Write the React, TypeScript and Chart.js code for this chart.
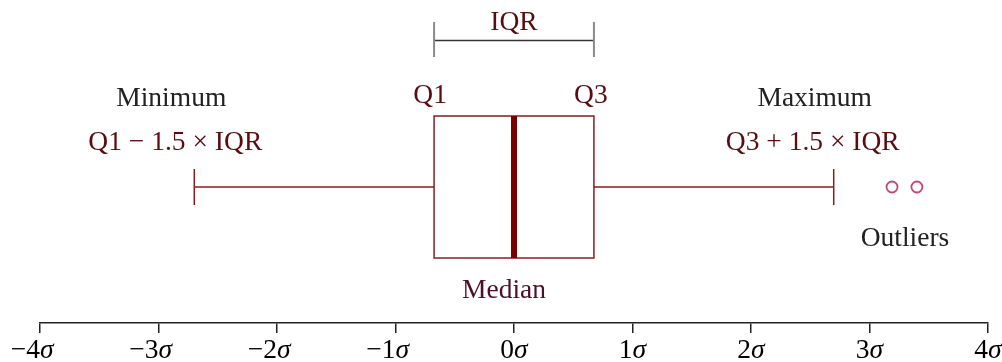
import React, { useEffect, useRef } from "react";
import { Chart, registerables } from "chart.js";

Chart.register(...registerables);

// Standard normal box plot: quartiles, 1.5×IQR fences and two outliers (in σ units)
const quartiles = [-0.6745, 0, 0.6745]; // Q1, median, Q3
const fences = [-2.698, 2.698]; // Q1 − 1.5×IQR, Q3 + 1.5×IQR
const outlierValues = [3.19, 3.4];
const tickValues = [-4, -3, -2, -1, 0, 1, 2, 3, 4];
const tickNumbers = ["4", "3", "2", "1", "0", "1", "2", "3", "4"];

const SERIF = '"Liberation Serif", "Times New Roman", serif';
const FONT_SIZE = 27.5;
const BOX_RED = "#8b1c1c";
const LABEL_RED = "#5a0c10";

const boxPlotPlugin = {
  id: "boxPlotDecor",
  afterDatasetsDraw(chart: any) {
    const { ctx } = chart;
    const xs = chart.scales.x;
    const ys = chart.scales.y;
    const yc = ys.getPixelForValue(0);
    const x1 = xs.getPixelForValue(quartiles[0]);
    const xm = xs.getPixelForValue(quartiles[1]);
    const x2 = xs.getPixelForValue(quartiles[2]);
    const xLo = xs.getPixelForValue(fences[0]);
    const xHi = xs.getPixelForValue(fences[1]);
    const half = 71;

    ctx.save();
    // box
    ctx.strokeStyle = BOX_RED;
    ctx.lineWidth = 1.5;
    ctx.strokeRect(x1, yc - half, x2 - x1, half * 2);
    // median
    ctx.strokeStyle = "#780000";
    ctx.lineWidth = 6;
    ctx.beginPath();
    ctx.moveTo(xm, yc - half);
    ctx.lineTo(xm, yc + half);
    ctx.stroke();
    // whisker caps
    ctx.strokeStyle = BOX_RED;
    ctx.lineWidth = 1.5;
    [xLo, xHi].forEach((x) => {
      ctx.beginPath();
      ctx.moveTo(x, yc - 18);
      ctx.lineTo(x, yc + 18);
      ctx.stroke();
    });
    // IQR bracket
    ctx.strokeStyle = "#333333";
    ctx.lineWidth = 1.5;
    ctx.beginPath();
    ctx.moveTo(x1, 40.5);
    ctx.lineTo(x2, 40.5);
    ctx.stroke();
    ctx.strokeStyle = "#8a8a8a";
    ctx.lineWidth = 2;
    [x1, x2].forEach((x) => {
      ctx.beginPath();
      ctx.moveTo(x, 22);
      ctx.lineTo(x, 57);
      ctx.stroke();
    });

    // annotations
    ctx.font = `${FONT_SIZE}px ${SERIF}`;
    ctx.textAlign = "center";
    ctx.textBaseline = "alphabetic";
    const label = (t: string, x: number, y: number, c: string) => {
      ctx.fillStyle = c;
      ctx.fillText(t, x, y);
    };
    label("IQR", (x1 + x2) / 2, 30, LABEL_RED);
    label("Q1", x1 - 4, 103, LABEL_RED);
    label("Q3", x2 - 3, 103, LABEL_RED);
    label("Minimum", xLo - 23, 106, "#222222");
    label("Q1 − 1.5 × IQR", xLo - 19, 150, LABEL_RED);
    label("Maximum", xHi - 19, 106, "#222222");
    label("Q3 + 1.5 × IQR", xHi - 21, 150, LABEL_RED);
    label("Outliers", xs.getPixelForValue(outlierValues[0]) + 13, 246, "#222222");
    label("Median", xm - 10, 298, "#4d1028");

    // sigma tick labels: digit upright, σ italic, minus hanging to the left
    const ty = 358;
    xs.ticks.forEach((tk: any, i: number) => {
      const px = xs.getPixelForValue(tk.value);
      const num = tickNumbers[i];
      ctx.font = `${FONT_SIZE}px ${SERIF}`;
      const wNum = ctx.measureText(num).width;
      ctx.font = `italic ${FONT_SIZE}px ${SERIF}`;
      const wSig = ctx.measureText("σ").width;
      const left = px - (wNum + wSig) / 2;
      ctx.fillStyle = "#000000";
      ctx.textAlign = "left";
      ctx.font = `${FONT_SIZE}px ${SERIF}`;
      ctx.fillText(num, left, ty);
      if (tk.value < 0) {
        ctx.textAlign = "right";
        ctx.fillText("−", left, ty);
        ctx.textAlign = "left";
      }
      ctx.font = `italic ${FONT_SIZE}px ${SERIF}`;
      ctx.fillText("σ", left + wNum, ty);
    });
    ctx.restore();
  },
};

export default function App() {
  const canvasRef = useRef<HTMLCanvasElement | null>(null);

  useEffect(() => {
    const canvas = canvasRef.current;
    if (!canvas) return;
    const whiskerStyle = {
      showLine: true,
      borderColor: BOX_RED,
      borderWidth: 1.5,
      pointRadius: 0,
    };
    const chart = new Chart(canvas, {
      type: "scatter",
      data: {
        datasets: [
          {
            ...whiskerStyle,
            data: [
              { x: fences[0], y: 0 },
              { x: quartiles[0], y: 0 },
            ],
          },
          {
            ...whiskerStyle,
            data: [
              { x: quartiles[2], y: 0 },
              { x: fences[1], y: 0 },
            ],
          },
          {
            data: outlierValues.map((v) => ({ x: v, y: 0 })),
            pointStyle: "circle",
            pointRadius: 5.5,
            borderColor: "#c8447a",
            backgroundColor: "rgba(0,0,0,0)",
            borderWidth: 1.8,
          },
        ],
      },
      options: {
        responsive: false,
        animation: false,
        layout: { padding: { left: 40, right: 14, top: 51, bottom: 0 } },
        plugins: { legend: { display: false }, tooltip: { enabled: false } },
        scales: {
          x: {
            type: "linear",
            position: "bottom",
            min: -4,
            max: 4,
            afterBuildTicks: (scale: any) => {
              scale.ticks = tickValues.map((v) => ({ value: v }));
            },
            afterFit: (scale: any) => {
              scale.height = 39;
            },
            grid: {
              drawOnChartArea: false,
              drawTicks: true,
              tickLength: 10,
              color: "#222222",
              lineWidth: 1.5,
            },
            border: { display: true, color: "#222222", width: 1.5 },
            ticks: { display: false },
          },
          y: { display: false, min: -1, max: 1 },
        },
      },
      plugins: [boxPlotPlugin],
    } as any);
    return () => chart.destroy();
  }, []);

  return (
    <div style={{ position: "fixed", left: 0, top: 0, width: 1002, height: 362, background: "#ffffff" }}>
      <canvas ref={canvasRef} width={1002} height={362} />
    </div>
  );
}
